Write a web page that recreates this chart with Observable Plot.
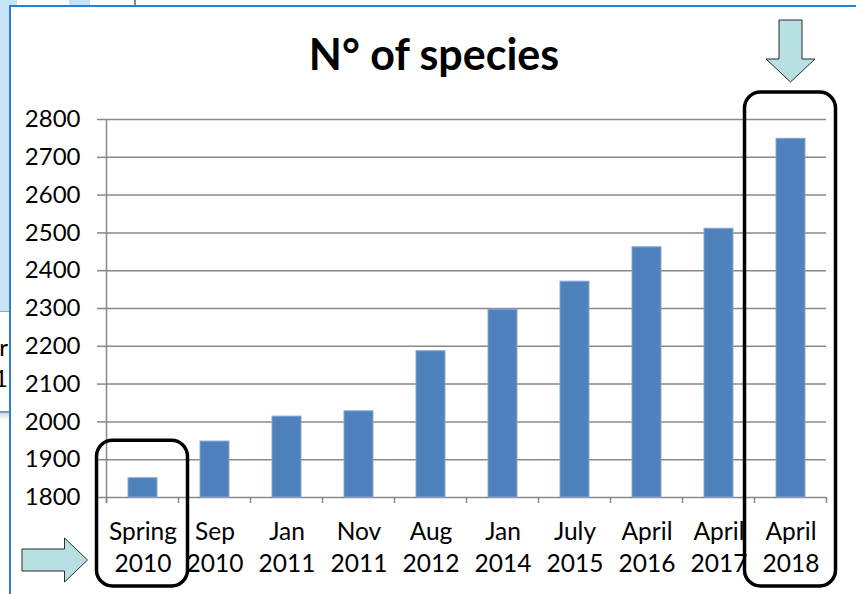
<!DOCTYPE html>
<html>
<head>
<meta charset="utf-8">
<script src="https://cdn.jsdelivr.net/npm/d3@7"></script>
<script src="https://cdn.jsdelivr.net/npm/@observablehq/plot@0.6"></script>
<style>
  body { margin: 0; background: #fff; }
  #wrap { position: relative; width: 856px; height: 594px; overflow: hidden; font-family: Lato, sans-serif; }
  .c { position: absolute; }
  #chart { position: absolute; left: 0; top: 0; }
  .clip { position: absolute; left: 0; width: 8px; overflow: hidden; font-size: 24px; line-height: 30px; color: #000; }
  .clip span { display: block; text-align: right; width: 8px; white-space: nowrap; direction: rtl; }
</style>
</head>
<body>
<div id="wrap">
  <div class="c" style="left:0;top:0;width:9px;height:312px;background:#c5e3f9"></div>
  <div class="c" style="left:0;top:311px;width:9px;height:1px;background:#9aa4ae"></div>
  <div class="c" style="left:0;top:0;width:17px;height:5px;background:#c5e3f9"></div>
  <div class="c" style="left:69px;top:0;width:21px;height:5px;background:#c5e3f9"></div>
  <div class="c" style="left:134px;top:0;width:2px;height:6px;background:#8a8a8a"></div>
  <div class="c" style="left:0;top:411px;width:9px;height:2px;background:#7d9cc4"></div>
  <div class="c" style="left:0;top:413px;width:9px;height:7px;background:linear-gradient(#cfd6de,#fff)"></div>
  <div class="clip" style="top:332px;height:30px"><span>r</span></div>
  <div class="clip" style="top:363px;height:30px"><span>1</span></div>
  <div class="c" style="left:9px;top:5px;width:847px;height:2px;background:#2a7fd4"></div>
  <div class="c" style="left:9px;top:5px;width:2px;height:589px;background:#2a7fd4"></div>
  <div id="chart"></div>
</div>
<script>
const title = "N° of species";
const categories = ["Spring 2010", "Sep 2010", "Jan 2011", "Nov 2011", "Aug 2012",
                    "Jan 2014", "July 2015", "April 2016", "April 2017", "April 2018"];
const values = [1851, 1948, 2014, 2028, 2187, 2297, 2371, 2462, 2511, 2749];
const yTicks = [1800, 1900, 2000, 2100, 2200, 2300, 2400, 2500, 2600, 2700, 2800];
const highlighted = ["Spring 2010", "April 2018"];

const data = categories.map((c, i) => ({category: c, value: values[i]}));

const W = 856, H = 594;
const chart = Plot.plot({
  width: W, height: H,
  marginLeft: 106, marginRight: 30, marginTop: 119, marginBottom: 97,
  style: {background: "transparent", fontFamily: "Lato, sans-serif", color: "#000", overflow: "visible"},
  x: {domain: categories, paddingInner: 0.6, paddingOuter: 0.3, axis: null},
  y: {domain: [yTicks[0], yTicks[yTicks.length - 1]], axis: null},
  marks: [
    Plot.gridY(yTicks, {stroke: "#898989", strokeOpacity: 1, strokeWidth: 1.5}),
    Plot.axisY(yTicks, {label: null, tickSize: 9, tickPadding: 17, fontSize: 24, stroke: "#898989", strokeWidth: 1.5, tickFormat: d => String(d)}),
    Plot.barY(data, {x: "category", y1: yTicks[0], y2: "value", fill: "#4f81bd", stroke: "#86a8d6", strokeWidth: 1}),
    Plot.text(data, {x: "category", text: d => d.category.replace(" ", "\n"), frameAnchor: "bottom",
      lineAnchor: "top", dy: 20, fontSize: 24.5, lineHeight: 1.31, fill: "#000"})
  ]
});
document.getElementById("chart").appendChild(chart);

const sx = chart.scale("x"), sy = chart.scale("y");
const step = sx.step, bw = sx.bandwidth;
const center = c => sx.apply(c) + bw / 2;
const svg = d3.select(chart);
const g = svg.append("g");
const x0 = center(categories[0]) - step / 2;
const yBase = sy.apply(yTicks[0]), yTop = sy.apply(yTicks[yTicks.length - 1]);

// vertical axis line
g.append("line").attr("x1", x0).attr("x2", x0).attr("y1", yTop).attr("y2", yBase + 6)
  .attr("stroke", "#898989").attr("stroke-width", 1.5);
// category boundary ticks
for (let i = 0; i <= categories.length; i++) {
  const xb = x0 + i * step;
  g.append("line").attr("x1", xb).attr("x2", xb).attr("y1", yBase).attr("y2", yBase + 6)
    .attr("stroke", "#898989").attr("stroke-width", 1.5);
}

// title
svg.append("text").attr("x", 434).attr("y", 70).attr("text-anchor", "middle")
  .attr("font-family", "Lato, sans-serif").attr("font-weight", "bold").attr("font-size", 43)
  .attr("fill", "#000").text(title);

// highlight boxes
const bottom = H - 8;
const boxTop = {"Spring 2010": sy.apply(1950), "April 2018": yTop - 27};
highlighted.forEach(c => {
  const bx0 = center(c) - step / 2 - 10, bx1 = center(c) + step / 2 + 9;
  g.append("rect").attr("x", bx0).attr("y", boxTop[c]).attr("width", bx1 - bx0)
    .attr("height", bottom - boxTop[c]).attr("rx", 16).attr("ry", 16)
    .attr("fill", "none").attr("stroke", "#000").attr("stroke-width", 3.5);
});

// arrows
const arrowFill = "#b8dfe1", arrowStroke = "#2b2b2b";
{
  const cx = center(highlighted[1]);
  const tip = boxTop[highlighted[1]] - 10;
  const pts = [[cx - 11.5, 20], [cx + 11.5, 20], [cx + 11.5, tip - 23], [cx + 24.5, tip - 23],
               [cx, tip], [cx - 24.5, tip - 23], [cx - 11.5, tip - 23]];
  g.append("path").attr("d", "M" + pts.join("L") + "Z").attr("fill", arrowFill)
    .attr("stroke", arrowStroke).attr("stroke-width", 1);
}
{
  const tipX = center(highlighted[0]) - step / 2 - 19;
  const cy = 560;
  const pts = [[22, cy - 11], [tipX - 23, cy - 11], [tipX - 23, cy - 22], [tipX, cy],
               [tipX - 23, cy + 22], [tipX - 23, cy + 11], [22, cy + 11]];
  g.append("path").attr("d", "M" + pts.join("L") + "Z").attr("fill", arrowFill)
    .attr("stroke", arrowStroke).attr("stroke-width", 1);
}
</script>
</body>
</html>
